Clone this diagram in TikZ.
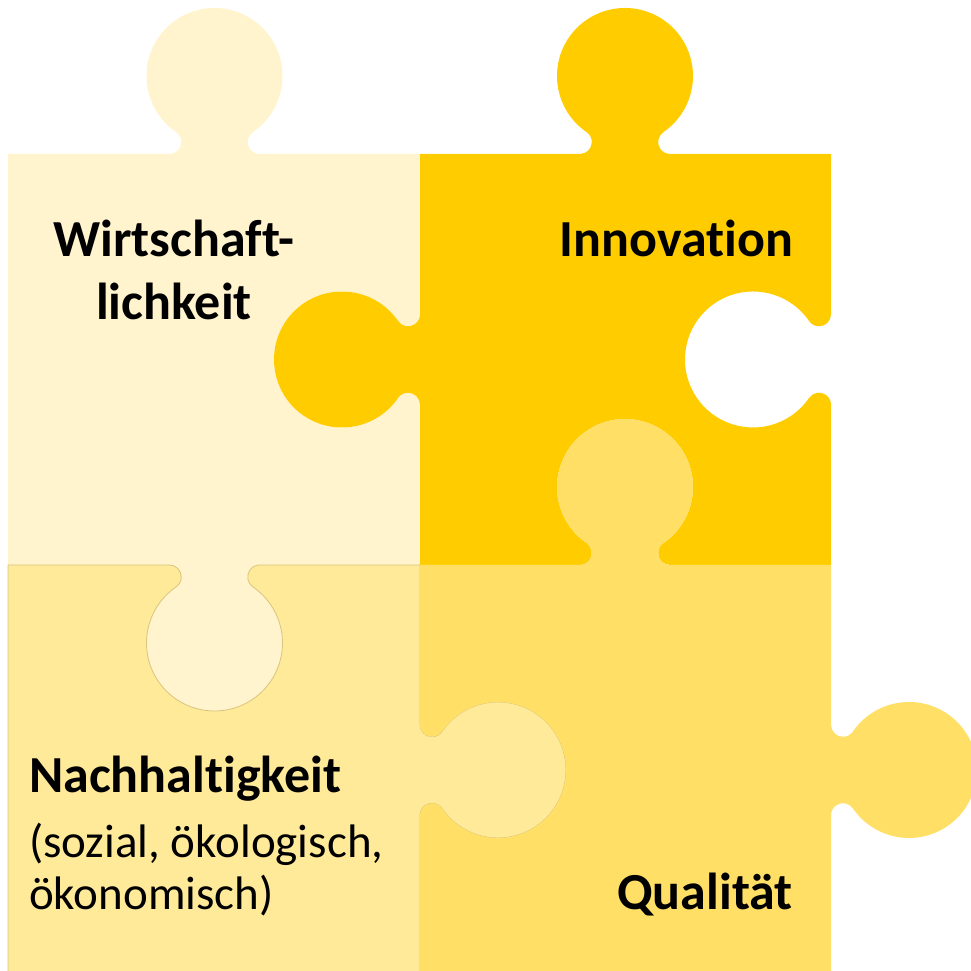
\documentclass[tikz,border=0pt]{standalone}
\usepackage{fontspec}
\setmainfont{Carlito}[Ligatures=NoCommon]
\usetikzlibrary{calc}

\definecolor{wirtfill}{HTML}{FFF4CD}
\definecolor{innofill}{HTML}{FFCC00}
\definecolor{nachfill}{HTML}{FFEA99}
\definecolor{nachedge}{HTML}{D9C47E}
\definecolor{qualfill}{HTML}{FFDF66}

% knob sticking out of an edge: #1 = middle of the edge, #2 = direction of the edge
\newcommand\knobout[2]{-- ($#1+(#2:-45.2)$)
  arc[start angle=#2-90, end angle=#2+55.6, radius=12]
  arc[start angle=#2+235.6, end angle=#2-55.6, radius=68]
  arc[start angle=#2+124.4, end angle=#2+270, radius=12]}
% hole cut into an edge
\newcommand\knobin[2]{-- ($#1+(#2:-45.2)$)
  arc[start angle=#2+90, end angle=#2-55.6, radius=12]
  arc[start angle=#2+124.4, end angle=#2+415.6, radius=68]
  arc[start angle=#2-124.4, end angle=#2-270, radius=12]}

\begin{document}
\begin{tikzpicture}[x=1pt,y=1pt,
    headline/.style={inner sep=0pt, font=\fontsize{52}{63}\selectfont\bfseries},
    subline/.style={inner sep=0pt, font=\fontsize{47}{52}\selectfont}]
  \clip (0,0) rectangle (971,971);

  % pieces
  \fill[wirtfill] (8,406) -- (8,817) \knobout{(214.5,817)}{0} -- (420,817)
    \knobin{(420,611.5)}{-90} -- (420,406) \knobout{(214.5,406)}{180} -- cycle;
  \fill[innofill] (420,406) \knobout{(420,611.5)}{90} -- (420,817)
    \knobout{(625,817)}{0} -- (831,817) \knobin{(831,611.5)}{-90} -- (831,406)
    \knobin{(625,406)}{180} -- cycle;
  \filldraw[fill=nachfill, draw=nachedge, line width=0.8pt] (8,-4) -- (8,406)
    \knobin{(214.5,406)}{0} -- (420,406) \knobout{(420,201)}{-90} -- (420,-4) -- cycle;
  \fill[qualfill] (420,-4) \knobin{(420,201)}{90} -- (420,406)
    \knobout{(625,406)}{0} -- (831,406) \knobout{(831,201)}{-90} -- (831,-4) -- cycle;

  % texts
  \node[headline, anchor=base] (wirt1) at (174,714) {Wirtschaft-};
  \node[headline, anchor=base] (wirt2) at (174,651) {lichkeit};
  \node[headline, anchor=base east] (inno) at (793,714) {Innovation};
  \node[headline, anchor=base west] (nach1) at (29,178) {Nachhaltigkeit};
  \node[subline, anchor=base west] (nach2) at (29,113) {(sozial, ökologisch,};
  \node[subline, anchor=base west] (nach3) at (29,61) {ökonomisch)};
  \node[headline, anchor=base east] (qual) at (793,61) {Qualität};
\end{tikzpicture}
\end{document}
